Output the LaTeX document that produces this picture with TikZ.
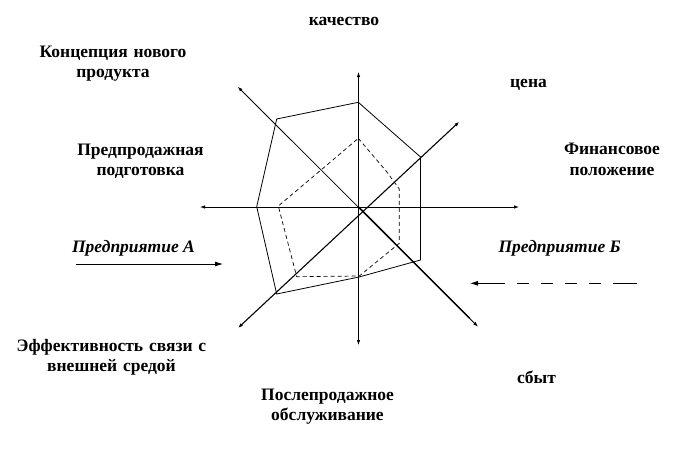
\documentclass[tikz,border=0pt]{standalone}
\usepackage{fontspec}
\setmainfont{Liberation Serif}
\usetikzlibrary{arrows.meta,calc}
\tikzset{
  axis/.style={line width=0.8pt,{Latex[length=5pt,width=3.5pt]}-{Latex[length=5pt,width=3.5pt]}},
  lbl/.style={font=\fontsize{17.5}{20.5}\selectfont\bfseries,inner sep=0pt,anchor=base},
  lbltwo/.style={lbl,text width=240pt,align=center},
  firm/.style={lbl,font=\fontsize{17.5}{20.5}\selectfont\bfseries\itshape},
  firmarrow/.style={line width=0.8pt,-{Latex[length=8pt,width=5pt]}}
}
\begin{document}
\begin{tikzpicture}[x=1pt,y=-1pt]
\useasboundingbox (0,0) rectangle (688,448);
% axes
\coordinate (O) at (358.5,207);
\coordinate (top) at (358.5,72);
\coordinate (bot) at (358.5,345);
\coordinate (lft) at (200,207);
\coordinate (rgt) at (519,207);
\coordinate (nw) at (237.7,86.7);
\coordinate (se) at (478,326.7);
\coordinate (sw) at (238,328);
\coordinate (ne) at (459.3,121.7);
\draw[axis] (top) -- (bot);
\draw[axis] (lft) -- (rgt);
\draw[axis] (nw) -- (se);
\draw[line width=1.5pt] (O) -- ($(O)!0.93!(se)$);
\draw[axis,line width=1.1pt] (sw) -- (ne);
% solid polygon
\foreach \n/\x/\y in {1/358.3/102.3, 2/420.5/157, 3/420.5/260, 4/359/277,
                      5/276.7/294, 6/256.7/206.7, 7/276.7/119}
  {\coordinate (s\n) at (\x,\y);}
\draw[line width=0.8pt] (s1) -- (s2) -- (s3) -- (s4) -- (s5) -- (s6) -- (s7) -- cycle;
% dashed polygon
\foreach \n/\x/\y in {1/358.3/138.3, 2/386.7/171.7, 3/399.3/189, 4/399.3/243.3,
                      5/359.3/276, 6/296.7/276.7, 7/278.3/206, 8/321/170}
  {\coordinate (d\n) at (\x,\y);}
\draw[line width=0.7pt,dash pattern=on 4pt off 3pt] (d1) -- (d2) -- (d3) -- (d4) -- (d5) -- (d6) -- (d7) -- (d8) -- cycle;
% labels
\node[lbl] (quality) at (344,25) {качество};
\node[lbltwo] (concept) at (113,57) {Концепция нового\\продукта};
\node[lbl] (price) at (528.5,87) {цена};
\node[lbltwo] (presale) at (140.5,155) {Предпродажная\\подготовка};
\node[lbltwo] (finance) at (612,154.5) {Финансовое\\положение};
\node[lbltwo] (link) at (111.5,351) {Эффективность связи с\\внешней средой};
\node[lbltwo] (aftersale) at (327.5,400) {Послепродажное\\обслуживание};
\node[lbl] (sales) at (536.5,383) {сбыт};
% firms
\node[firm] (firmA) at (133.5,252) {Предприятие А};
\node[firm] (firmB) at (559.7,252) {Предприятие Б};
\coordinate (a0) at (76,264);
\coordinate (a1) at (223,264);
\draw[firmarrow] (a0) -- (a1);
\coordinate (b0) at (637.3,283.3);
\coordinate (b1) at (470,283.3);
\draw[firmarrow,dash pattern=on 24pt off 12pt on 12pt off 12pt on 12pt off 12pt on 12pt off 12pt on 12pt off 12pt on 60pt] (b0) -- (b1);
\end{tikzpicture}
\end{document}
